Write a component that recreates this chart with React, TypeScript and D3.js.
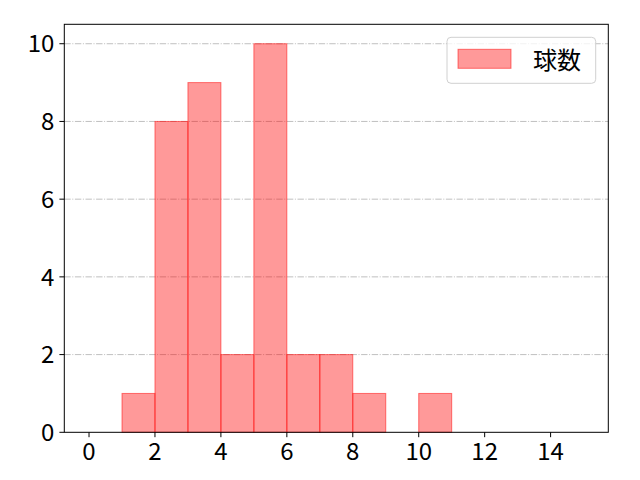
import { useEffect, useRef } from 'react';
import * as d3 from 'd3';

// histogram bins (left edge) and counts
const binStarts = [0, 1, 2, 3, 4, 5, 6, 7, 8, 9, 10, 11, 12, 13, 14];
const counts = [0, 1, 8, 9, 2, 10, 2, 2, 1, 0, 1, 0, 0, 0, 0];
const xTicks = [0, 2, 4, 6, 8, 10, 12, 14];
const yTicks = [0, 2, 4, 6, 8, 10];
const seriesName = '球数';

const FONT = '"Noto Sans CJK JP", "Noto Sans", sans-serif';
const FONT_SIZE = 24;

export default function App() {
  const svgRef = useRef<SVGSVGElement>(null);
  const width = 640;
  const height = 480;

  useEffect(() => {
    if (!svgRef.current) return;
    const svg = d3.select(svgRef.current);
    svg.selectAll('*').remove();

    const margin = { top: 24.3, right: 640 - 608.3, bottom: 480 - 432.3, left: 64.3 };
    const innerWidth = width - margin.left - margin.right;
    const innerHeight = height - margin.top - margin.bottom;

    const g = svg
      .append('g')
      .attr('transform', `translate(${margin.left},${margin.top})`);

    const x = d3.scaleLinear().domain([-0.75, 15.75]).range([0, innerWidth]);
    const y = d3.scaleLinear().domain([0, 10.5]).range([innerHeight, 0]);

    // grid
    g.selectAll('line.grid')
      .data(yTicks.filter((t) => t > 0))
      .join('line')
      .attr('class', 'grid')
      .attr('x1', 0)
      .attr('x2', innerWidth)
      .attr('y1', (d) => y(d))
      .attr('y2', (d) => y(d))
      .attr('stroke', '#b0b0b0')
      .attr('stroke-width', 0.8)
      .attr('stroke-dasharray', '6.4,1.6,1,1.6');

    // bars
    const bins = binStarts.map((s, i) => ({ s, v: counts[i] })).filter((d) => d.v > 0);
    g.selectAll('rect.bar')
      .data(bins)
      .join('rect')
      .attr('class', 'bar')
      .attr('x', (d) => x(d.s))
      .attr('y', (d) => y(d.v))
      .attr('width', (d) => x(d.s + 1) - x(d.s))
      .attr('height', (d) => y(0) - y(d.v))
      .attr('fill', 'rgba(255,0,0,0.4)')
      .attr('stroke', 'rgba(255,0,0,0.5)')
      .attr('stroke-width', 1);

    // spines
    g.append('rect')
      .attr('width', innerWidth)
      .attr('height', innerHeight)
      .attr('fill', 'none')
      .attr('stroke', '#000')
      .attr('stroke-width', 1);

    // x axis
    const xa = g.append('g').attr('transform', `translate(0,${innerHeight})`);
    xTicks.forEach((t) => {
      xa.append('line')
        .attr('x1', x(t))
        .attr('x2', x(t))
        .attr('y1', 0)
        .attr('y2', 4.9)
        .attr('stroke', '#000');
      xa.append('text')
        .attr('x', x(t))
        .attr('y', 28)
        .attr('text-anchor', 'middle')
        .attr('font-family', FONT)
        .attr('font-size', FONT_SIZE)
        .attr('fill', '#000')
        .text(t);
    });

    // y axis
    const ya = g.append('g');
    yTicks.forEach((t) => {
      ya.append('line')
        .attr('x1', -4.9)
        .attr('x2', 0)
        .attr('y1', y(t))
        .attr('y2', y(t))
        .attr('stroke', '#000');
      ya.append('text')
        .attr('x', -10)
        .attr('y', y(t))
        .attr('dy', '0.36em')
        .attr('text-anchor', 'end')
        .attr('font-family', FONT)
        .attr('font-size', FONT_SIZE)
        .attr('fill', '#000')
        .text(t);
    });

    // legend
    const lg = svg.append('g').attr('transform', 'translate(447,37.3)');
    lg.append('rect')
      .attr('width', 148.7)
      .attr('height', 46)
      .attr('rx', 4)
      .attr('fill', 'rgba(255,255,255,0.8)')
      .attr('stroke', '#d0d0d0')
      .attr('stroke-width', 1);
    lg.append('rect')
      .attr('x', 11)
      .attr('y', 12)
      .attr('width', 53)
      .attr('height', 19)
      .attr('fill', 'rgba(255,0,0,0.4)')
      .attr('stroke', 'rgba(255,0,0,0.5)');
    lg.append('text')
      .attr('x', 86)
      .attr('y', 21.5)
      .attr('dominant-baseline', 'central')
      .attr('font-family', FONT)
      .attr('font-size', FONT_SIZE)
      .attr('fill', '#000')
      .text(seriesName);
  }, []);

  return <svg ref={svgRef} width={width} height={height} style={{ display: 'block', margin: -8 }} />;
}
